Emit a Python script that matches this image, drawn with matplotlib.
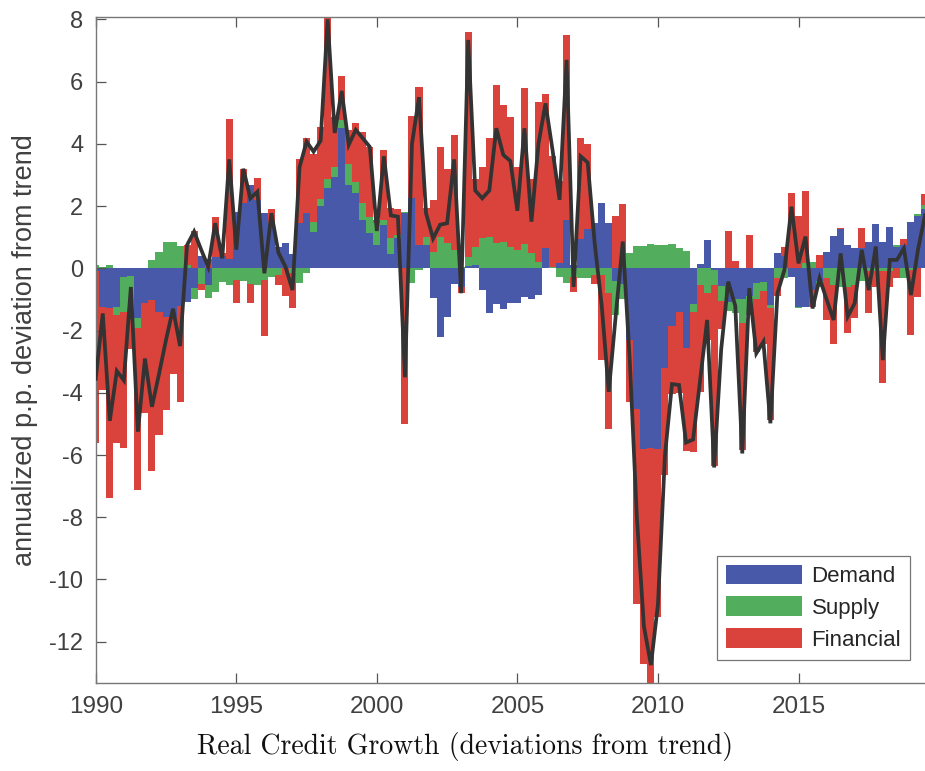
import numpy as np
import matplotlib
matplotlib.use("Agg")
import matplotlib.pyplot as plt

# Quarterly data, 1990Q1 ... 2019Q3
start_year = 1990
demand = [
    -0.10, -1.23, -1.28, -1.23, -0.27, -0.24, -1.60, -1.13, -1.02, -1.40,
    -1.55, -1.55, -1.20, -1.07, -0.64, 0.40, -0.55, 0.35, 0.40, 0.30,
    1.80, 2.10, 2.68, 2.20, 1.79, 1.45, 0.70, 0.82, 0.46, 1.45,
    1.77, 1.18, 2.00, 2.57, 2.95, 4.50, 2.68, 2.43, 1.55, 1.15,
    0.75, 1.40, 0.46, 0.96, 1.77, 2.25, 0.75, 0.75, -0.96, -2.20,
    -1.55, -0.50, -0.60, 0.07, 0.10, -0.70, -1.45, -1.15, -1.30, -1.10,
    -1.10, -0.93, -1.00, -0.86, 0.64, 0.00, 0.18, 1.55, 0.10, 0.93,
    1.26, 1.45, 2.10, 1.45, -0.40, -0.50, -2.30, -4.53, -5.82, -5.77,
    -5.80, -3.20, -1.85, -1.40, -2.57, -1.15, 0.13, 0.91, -0.05, -0.57,
    -1.07, -1.00, -1.00, -0.90, -0.48, -0.43, -1.18, 0.50, 0.40, -0.27,
    -1.23, -1.23, -0.70, -0.40, 0.51, 1.04, 1.25, 0.75, 0.66, 0.64,
    0.86, 1.41, 0.86, 1.34, 0.70, 0.75, 1.50, 1.68, 1.90,
]
supply = [
    0.10, 0.05, 0.10, -0.27, -1.12, -1.10, -0.32, 0.00, 0.27, 0.53,
    0.86, 0.86, 0.72, 0.10, -0.35, -0.50, -0.40, -0.75, -0.45, -0.55,
    -0.38, -0.40, -0.50, -0.54, -0.38, -0.27, -0.20, 0.00, -0.16, -0.48,
    -0.16, 0.30, 0.24, 0.30, 0.32, 0.27, 0.68, 0.35, 0.54, 0.50,
    0.70, 0.14, 0.52, 0.10, 0.05, -0.48, -0.05, 0.27, 0.51, 1.00,
    0.80, 0.60, 0.05, 0.28, 0.57, 0.96, 1.02, 0.80, 0.86, 0.70,
    0.60, 0.78, 0.48, 0.20, 0.00, 0.05, -0.27, -0.48, -0.27, -0.32,
    -0.30, -0.20, -0.20, -0.80, -1.10, -0.50, 0.50, 0.72, 0.72, 0.77,
    0.75, 0.75, 0.78, 0.66, 0.56, -0.25, -0.54, -0.80, -0.50, -0.48,
    -0.30, -0.45, -0.75, -0.60, -0.50, -0.30, -0.08, -0.30, -0.30, 0.00,
    -0.05, 0.16, 0.20, -0.20, -0.32, -0.54, -0.59, -0.59, -0.54, -0.40,
    -0.10, -0.10, -0.10, -0.10, 0.05, -0.30, -0.05, 0.06, 0.15,
]
financial = [
    -5.50, -2.67, -6.10, -4.10, -4.40, -1.25, -5.20, -3.53, -5.50, -3.95,
    -3.00, -1.85, -3.10, 0.65, 1.20, -0.20, 0.30, 1.30, 0.10, 4.50,
    -0.75, 1.10, -0.60, 0.70, -1.80, 0.45, -0.35, -0.90, -1.10, 2.05,
    2.43, 2.20, 2.30, 5.20, 1.60, 1.40, 1.10, 1.90, 2.30, 2.25,
    0.10, 2.26, 0.95, 0.84, -5.00, 2.65, 5.09, 0.91, 1.69, 2.90,
    2.40, 3.70, -0.20, 7.25, 2.19, 2.29, 3.18, 5.10, 4.39, 4.15,
    2.67, 5.00, 2.38, 5.13, 4.96, 3.55, 2.62, 5.95, -0.50, 3.27,
    2.73, -0.30, -2.75, -4.35, 1.67, 2.07, -2.00, -6.27, -6.90, -7.60,
    -5.40, -3.45, -2.20, -2.60, -3.30, -4.50, -3.43, -1.50, -5.80, -0.90,
    1.20, 0.24, -4.10, 1.07, -1.70, -1.70, -3.60, -0.60, 0.30, 2.41,
    1.68, 2.33, -0.53, 0.43, -1.34, -1.90, 0.05, -1.50, -1.07, 0.65,
    -1.34, -0.50, -3.57, -0.50, -0.30, 0.18, -2.10, -0.93, 0.35,
]
total = [
    -3.55, -1.45, -4.90, -3.30, -3.60, -0.60, -5.25, -2.90, -4.45, -3.40,
    -2.30, -1.30, -2.50, 0.75, 1.18, 0.60, 0.05, 1.45, 0.32, 3.50,
    0.60, 3.20, 2.25, 2.46, -0.16, 1.77, 0.50, 0.05, -0.70, 3.25,
    4.07, 3.75, 4.10, 8.00, 4.35, 5.70, 3.97, 4.45, 4.18, 3.90,
    1.20, 3.60, 1.70, 1.66, -3.50, 4.00, 5.50, 1.77, 0.96, 1.40,
    1.45, 3.50, -0.80, 7.34, 2.50, 2.25, 2.50, 4.50, 3.64, 3.45,
    1.85, 4.50, 1.50, 4.00, 5.30, 3.80, 2.20, 6.70, -0.60, 3.60,
    3.40, 0.80, -1.20, -3.97, -1.50, 0.86, -3.00, -8.00, -11.50, -12.75,
    -10.80, -6.00, -3.72, -3.75, -5.60, -5.50, -3.60, -1.66, -6.40, -2.60,
    -0.43, -1.20, -5.95, -0.64, -2.73, -2.36, -4.98, -0.80, -0.05, 1.98,
    0.16, 1.02, -1.29, -0.32, -1.00, -1.66, 0.48, -1.55, -1.12, 0.59,
    -0.70, 0.70, -2.95, 0.27, 0.27, 0.64, -0.86, 0.60, 1.70,
]
series_names = ["Demand", "Supply", "Financial"]
series_colors = ["#4759a8", "#52ad5c", "#da433b"]
x_ticks = [1990, 1995, 2000, 2005, 2010, 2015]
y_ticks = [-12, -10, -8, -6, -4, -2, 0, 2, 4, 6, 8]

plt.rcParams["axes.unicode_minus"] = False
plt.rcParams["font.family"] = ["Liberation Sans", "DejaVu Sans"]

n = len(total)
t = start_year + np.arange(n) / 4.0

fig = plt.figure(figsize=(9.25, 7.71), dpi=100)
ax = fig.add_axes([0.1035, 0.114, 0.8965, 0.8637])

pos_bottom = np.zeros(n)
neg_bottom = np.zeros(n)
handles = []
for vals, name, col in zip([demand, supply, financial], series_names, series_colors):
    v = np.array(vals, dtype=float)
    p = np.where(v > 0, v, 0.0)
    q = np.where(v < 0, v, 0.0)
    h = ax.bar(t, p, width=0.25, bottom=pos_bottom, color=col, linewidth=0,
               label=name, align="center")
    ax.bar(t, q, width=0.25, bottom=neg_bottom, color=col, linewidth=0,
           align="center")
    pos_bottom += p
    neg_bottom += q
    handles.append(h)

ax.plot(t, total, color="#333333", linewidth=2.7, solid_joinstyle="miter", zorder=5)

ax.set_xlim(1990, 2019.5)
ax.set_ylim(-13.33, 8.07)
ax.set_xticks(x_ticks)
ax.set_yticks(y_ticks)
ax.tick_params(direction="in", length=7, width=0.9, colors="#555555",
               labelcolor="#404040", labelsize=17, top=True, right=False)
ax.tick_params(axis="x", labelsize=17.5, pad=9)
ax.tick_params(axis="y", pad=9)
for side in ["left", "bottom", "top"]:
    ax.spines[side].set_color("#777777")
    ax.spines[side].set_linewidth(1.0)
ax.spines["right"].set_visible(False)

ax.set_ylabel("annualized p.p. deviation from trend", fontsize=19.5,
              color="#404040", labelpad=8)
ax.set_xlabel("Real Credit Growth (deviations from trend)", fontsize=20,
              family="cmr10", color="#111111")
ax.xaxis.set_label_coords(0.445, -0.073)

leg = ax.legend(handles=handles, loc="lower right", bbox_to_anchor=(0.982, 0.035),
                borderaxespad=0, fontsize=16, frameon=True, fancybox=False,
                handlelength=3.4, handleheight=1.0, labelspacing=0.42,
                handletextpad=0.45, borderpad=0.4)
leg.get_frame().set_edgecolor("#555555")
leg.get_frame().set_linewidth(0.9)
for txt in leg.get_texts():
    txt.set_color("#262626")

fig.savefig("out.png", dpi=100)
